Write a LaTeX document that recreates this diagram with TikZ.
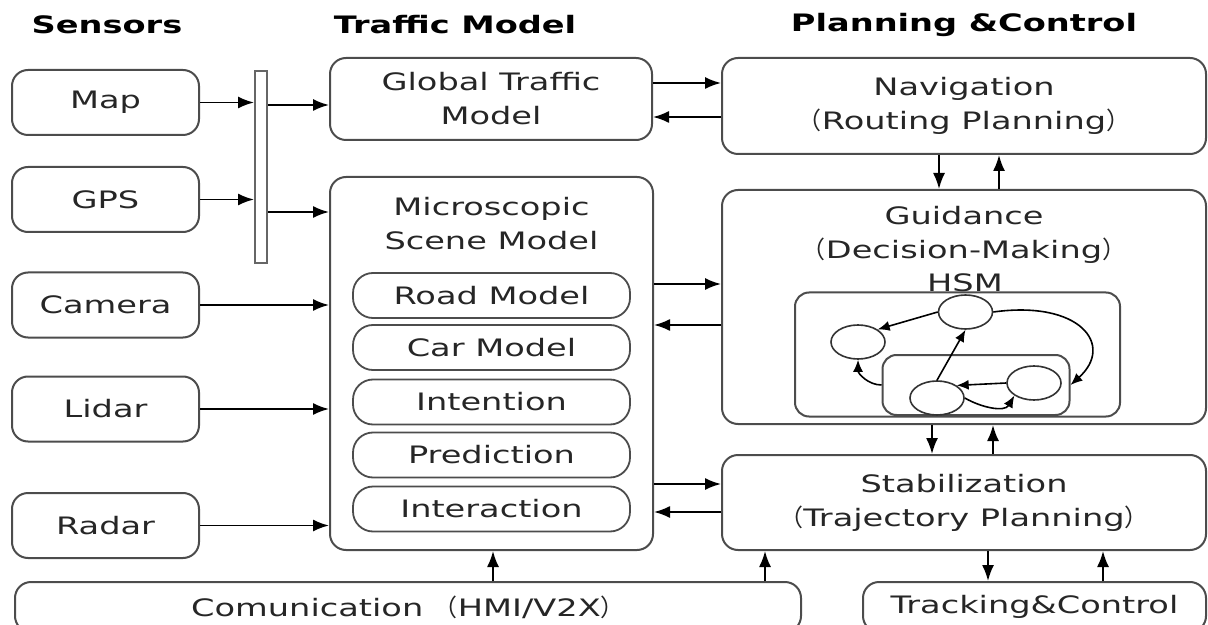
\documentclass[tikz,border=0pt]{standalone}
\usepackage{fontspec}
\setmainfont{DejaVu Sans}[FakeStretch=1.4]
\newfontfamily\cjk{Noto Sans CJK SC}
\usepackage{tikz}
\usetikzlibrary{calc,arrows.meta,shapes.geometric}

\newcommand{\lpar}{{\cjk （}}
\newcommand{\rpar}{{\cjk ）}}

\tikzset{
	box/.style={draw=black!70, line width=1pt, rounded corners=8pt, align=center,
		font=\fontsize{12}{17}\selectfont, text=black!85, inner sep=0pt},
	sensor/.style={box, minimum width=93.5pt, minimum height=32.5pt},
	model/.style={box, rounded corners=10pt, line width=0.9pt, minimum width=138.5pt, minimum height=22.5pt},
	wide/.style={box, minimum width=242pt},
	plain/.style={align=center, font=\fontsize{12}{17}\selectfont, text=black!85, inner sep=0pt},
	head/.style={plain, font=\fontsize{12}{17}\selectfont\bfseries, text=black},
	bus/.style={draw=black!60, line width=1pt, fill=white, minimum width=6pt, minimum height=96pt, inner sep=0pt},
	state/.style={ellipse, draw=black!80, line width=0.8pt, minimum width=27pt, minimum height=17pt, inner sep=0pt},
	arr/.style={-{Latex[length=8pt,width=6pt]}, line width=0.9pt},
	harr/.style={-{Latex[length=6pt,width=5pt]}, line width=0.8pt}
}

\begin{document}
\begin{tikzpicture}[x=0.5pt,y=-0.5pt] % one unit = one pixel of the reference
	\useasboundingbox (0,0) rectangle (1208,625);
	\clip (0,0) rectangle (1208,625);
	% column titles
	\node[head] (hsens) at (107,25) {Sensors};
	\node[head] (htraf) at (455,25) {Traffic Model};
	\node[head] (hplan) at (964,25) {Planning \&Control};
	% sensors
	\foreach \nm/\txt/\y in {map/Map/102.5, gps/GPS/199.5, cam/Camera/305, lidar/Lidar/409, radar/Radar/525.5}
		{\node[sensor] (\nm) at (105.5,\y) {\txt};};
	\node[bus] (bus) at (261,167) {};
	% traffic model
	\node[box, minimum width=161pt, minimum height=41pt] (glob) at (491,99) {Global Traffic\\Model};
	\node[box, minimum width=161.5pt, minimum height=186.5pt] (micro) at (491.5,363.5) {};
	\node[plain] (microtitle) at (491.5,223.5) {Microscopic\\Scene Model};
	\foreach \nm/\txt/\y in {road/Road Model/295.5, car/Car Model/347.5, intent/Intention/402, pred/Prediction/455, inter/Interaction/509}
		{\node[model] (\nm) at (491.5,\y) {\txt};};
	% planning and control
	\node[wide, minimum height=48pt] (nav) at (964,106) {Navigation\\\lpar Routing Planning\rpar};
	\node[wide, minimum height=117pt] (guid) at (964,307) {};
	\node[plain] (guidtitle) at (964,235) {Guidance\\\lpar Decision-Making\rpar};
	\node[plain] (hsmtitle) at (965,283) {HSM};
	\node[wide, minimum height=47.5pt] (stab) at (964,502.5) {Stabilization\\\lpar Trajectory Planning\rpar};
	\node[box, minimum width=171.5pt, minimum height=25pt] (track) at (1034.5,607) {Tracking\&Control};
	\node[box, minimum width=393pt, minimum height=25pt] (com) at (408,607) {Comunication \lpar HMI/V2X\rpar};
	% HSM
	\node[box, rounded corners=7pt, minimum width=162.5pt, minimum height=62pt] (hsm) at (957.5,354.5) {};
	\node[box, rounded corners=7pt, minimum width=93.5pt, minimum height=30pt] (super) at (976,385) {};
	\node[state] (sA) at (965.5,312) {};
	\node[state] (sB) at (858,342) {};
	\node[state] (sC) at (937,398) {};
	\node[state] (sD) at (1034,383) {};
	\draw[harr] (sA.west) -- (sB.north east);
	\draw[harr] (sC.north) -- (sA.south);
	\draw[harr] (sA.east) .. controls (1080,300) and (1115,345) .. (super.east);
	\draw[harr] (super.west) to[out=180,in=-90] (sB.south);
	\draw[harr] (sD.west) -- (sC.north east);
	\draw[harr] (sC.east) to[out=-30,in=-120] (sD.south west);
	% sensors to traffic model
	\draw[arr] (map) -- (map -| bus.west);
	\draw[arr] (gps) -- (gps -| bus.west);
	\draw[arr] (bus.east |- 0,105) -- (glob.west |- 0,105);
	\draw[arr] (bus.east |- 0,212) -- (micro.west |- 0,212);
	\foreach \nm in {cam,lidar,radar}
		\draw[arr] (\nm) -- (\nm -| micro.west);
	% traffic model and planning
	\draw[arr] (glob.east |- 0,83) -- (nav.west |- 0,83);
	\draw[arr] (nav.west |- 0,117) -- (glob.east |- 0,117);
	\draw[arr] (micro.east |- 0,284) -- (guid.west |- 0,284);
	\draw[arr] (guid.west |- 0,325) -- (micro.east |- 0,325);
	\draw[arr] (micro.east |- 0,484) -- (stab.west |- 0,484);
	\draw[arr] (stab.west |- 0,512) -- (micro.east |- 0,512);
	% planning levels
	\draw[arr] (nav.south -| 939,0) -- (guid.north -| 939,0);
	\draw[arr] (guid.north -| 999,0) -- (nav.south -| 999,0);
	\draw[arr] (guid.south -| 932,0) -- (stab.north -| 932,0);
	\draw[arr] (stab.north -| 993,0) -- (guid.south -| 993,0);
	\draw[arr] (stab.south -| 988,0) -- (track.north -| 988,0);
	\draw[arr] (track.north -| 1103,0) -- (stab.south -| 1103,0);
	% communication
	\draw[arr] (com.north -| 493,0) -- (micro.south -| 493,0);
	\draw[arr] (com.north -| 765,0) -- (stab.south -| 765,0);
\end{tikzpicture}
\end{document}
